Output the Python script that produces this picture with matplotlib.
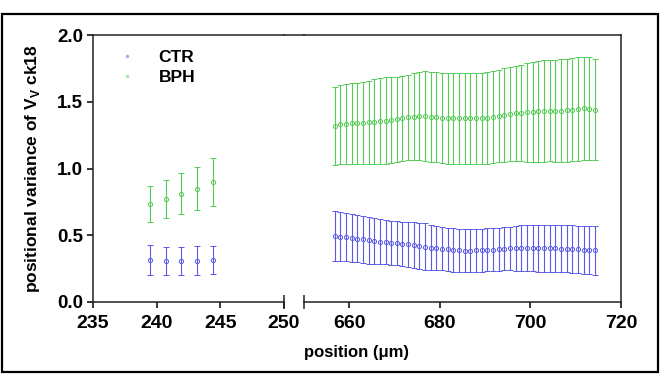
import numpy as np
import matplotlib
matplotlib.use("Agg")
import matplotlib.pyplot as plt
from matplotlib.lines import Line2D
from matplotlib.patches import Rectangle

plt.rcParams['font.family'] = ['Liberation Sans', 'DejaVu Sans']
plt.rcParams['font.weight'] = 'bold'
plt.rcParams['mathtext.fontset'] = 'custom'
plt.rcParams['mathtext.rm'] = 'Liberation Sans:bold'
plt.rcParams['mathtext.bf'] = 'Liberation Sans:bold'

# positions (um)
pos_left = [239.45, 240.7, 241.95, 243.2, 244.45]
pos_right = [656.75 + 1.25 * i for i in range(47)]

# left block
ctr_left = [0.315, 0.307, 0.307, 0.310, 0.315]
ctr_left_sd = [0.110, 0.105, 0.105, 0.110, 0.107]
bph_left = [0.734, 0.772, 0.810, 0.850, 0.900]
bph_left_sd = [0.136, 0.142, 0.154, 0.164, 0.180]

# right block
bph_right = [1.318, 1.330, 1.335, 1.338, 1.340, 1.343, 1.347, 1.350, 1.354, 1.358,
             1.364, 1.370, 1.376, 1.383, 1.389, 1.393, 1.392, 1.388, 1.383, 1.379,
             1.376, 1.376, 1.375, 1.375, 1.375, 1.375, 1.376, 1.378, 1.383, 1.392,
             1.400, 1.408, 1.412, 1.416, 1.420, 1.423, 1.427, 1.430, 1.433, 1.433,
             1.434, 1.436, 1.440, 1.446, 1.451, 1.448, 1.440]
bph_right_sd = [0.290, 0.294, 0.298, 0.301, 0.304, 0.307, 0.312, 0.318, 0.322, 0.325,
                0.322, 0.319, 0.317, 0.320, 0.324, 0.330, 0.336, 0.337, 0.337, 0.340,
                0.342, 0.342, 0.342, 0.342, 0.342, 0.342, 0.342, 0.343, 0.345, 0.346,
                0.350, 0.353, 0.356, 0.363, 0.370, 0.377, 0.378, 0.379, 0.380, 0.382,
                0.385, 0.387, 0.387, 0.387, 0.386, 0.385, 0.378]
ctr_right = [0.494, 0.490, 0.485, 0.480, 0.475, 0.470, 0.463, 0.457, 0.452, 0.448,
             0.444, 0.440, 0.436, 0.431, 0.426, 0.421, 0.414, 0.408, 0.402, 0.398,
             0.394, 0.390, 0.386, 0.384, 0.384, 0.386, 0.388, 0.390, 0.393, 0.396,
             0.399, 0.401, 0.402, 0.403, 0.404, 0.404, 0.403, 0.402, 0.402, 0.401,
             0.400, 0.399, 0.397, 0.395, 0.393, 0.390, 0.387]
ctr_right_sd = [0.190, 0.185, 0.179, 0.177, 0.176, 0.175, 0.175, 0.175, 0.168, 0.165,
                0.165, 0.165, 0.165, 0.166, 0.170, 0.172, 0.175, 0.172, 0.165, 0.162,
                0.162, 0.162, 0.161, 0.161, 0.161, 0.161, 0.161, 0.161, 0.161, 0.161,
                0.161, 0.163, 0.170, 0.172, 0.173, 0.174, 0.175, 0.176, 0.176, 0.176,
                0.176, 0.176, 0.177, 0.178, 0.180, 0.183, 0.185]

blue = '#5a5ae6'
green = '#55cc55'
W, H = 661, 376

fig = plt.figure(figsize=(W / 100, H / 100), dpi=100)
ax1 = fig.add_axes([93 / W, 1 - 302 / H, 191 / W, 267 / H])
ax2 = fig.add_axes([304 / W, 1 - 302 / H, 317 / W, 267 / H])

eb = dict(fmt='o', ms=3, mfc='none', mew=0.7, elinewidth=0.8, capsize=2.5, capthick=0.8)
ax1.errorbar(pos_left, ctr_left, yerr=ctr_left_sd, color=blue, **eb)
ax1.errorbar(pos_left, bph_left, yerr=bph_left_sd, color=green, **eb)
ax2.errorbar(pos_right, ctr_right, yerr=ctr_right_sd, color=blue, **eb)
ax2.errorbar(pos_right, bph_right, yerr=bph_right_sd, color=green, **eb)

ax1.set_xlim(235, 250)
ax2.set_xlim(650, 720)
for ax in (ax1, ax2):
    ax.set_ylim(0, 2.0)
    for s in ax.spines.values():
        s.set_linewidth(1.1)
        s.set_color('#222222')
    ax.tick_params(axis='x', direction='out', length=4, width=1.1, pad=5, labelsize=14)
    ax.tick_params(axis='y', direction='out', length=4, width=1.1, pad=3, labelsize=13.5)

ax1.set_xticks([235, 240, 245, 250])
ax2.set_xticks([660, 680, 700, 720])
ax1.set_yticks([0, 0.5, 1.0, 1.5, 2.0])
ax1.set_yticklabels(['0.0', '0.5', '1.0', '1.5', '2.0'])
ax1.spines['right'].set_visible(False)
ax2.spines['left'].set_visible(False)
ax2.tick_params(axis='y', left=False, labelleft=False)

# break marks
ax1.plot([250], [0], marker='|', ms=10, mew=1.1, color='#222222', clip_on=False)
ax2.plot([650], [0], marker='|', ms=10, mew=1.1, color='#222222', clip_on=False)
# top line across the gap
fig.add_artist(Line2D([284 / W, 304 / W], [1 - 35 / H, 1 - 35 / H], lw=1.1, color='#222222'))

ax1.set_ylabel(r'positional variance of V$_{\mathbf{V}}$ ck18', fontsize=12.5, fontweight='bold')
ax1.yaxis.set_label_coords(-0.267, 0.5)
fig.text(357 / W, 1 - 353 / H, 'position (μm)', ha='center', va='center', fontsize=12, fontweight='bold')

handles = [Line2D([], [], ls='none', marker='o', ms=2.5, color=blue, alpha=0.5, mew=0),
           Line2D([], [], ls='none', marker='o', ms=2.5, color=green, alpha=0.5, mew=0)]
ax1.legend(handles, ['CTR', 'BPH'], loc='upper left', bbox_to_anchor=(110 / W, 1 - 50 / H),
           bbox_transform=fig.transFigure, frameon=False, handlelength=2,
           handletextpad=0.8, labelspacing=0.25, borderpad=0, borderaxespad=0,
           prop={'weight': 'bold', 'size': 12.5})

fig.add_artist(Rectangle((1.5 / W, 4 / H), 656 / W, 358 / H, transform=fig.transFigure,
                         fill=False, lw=1.6, ec='black'))

fig.savefig('out.png', dpi=100)
